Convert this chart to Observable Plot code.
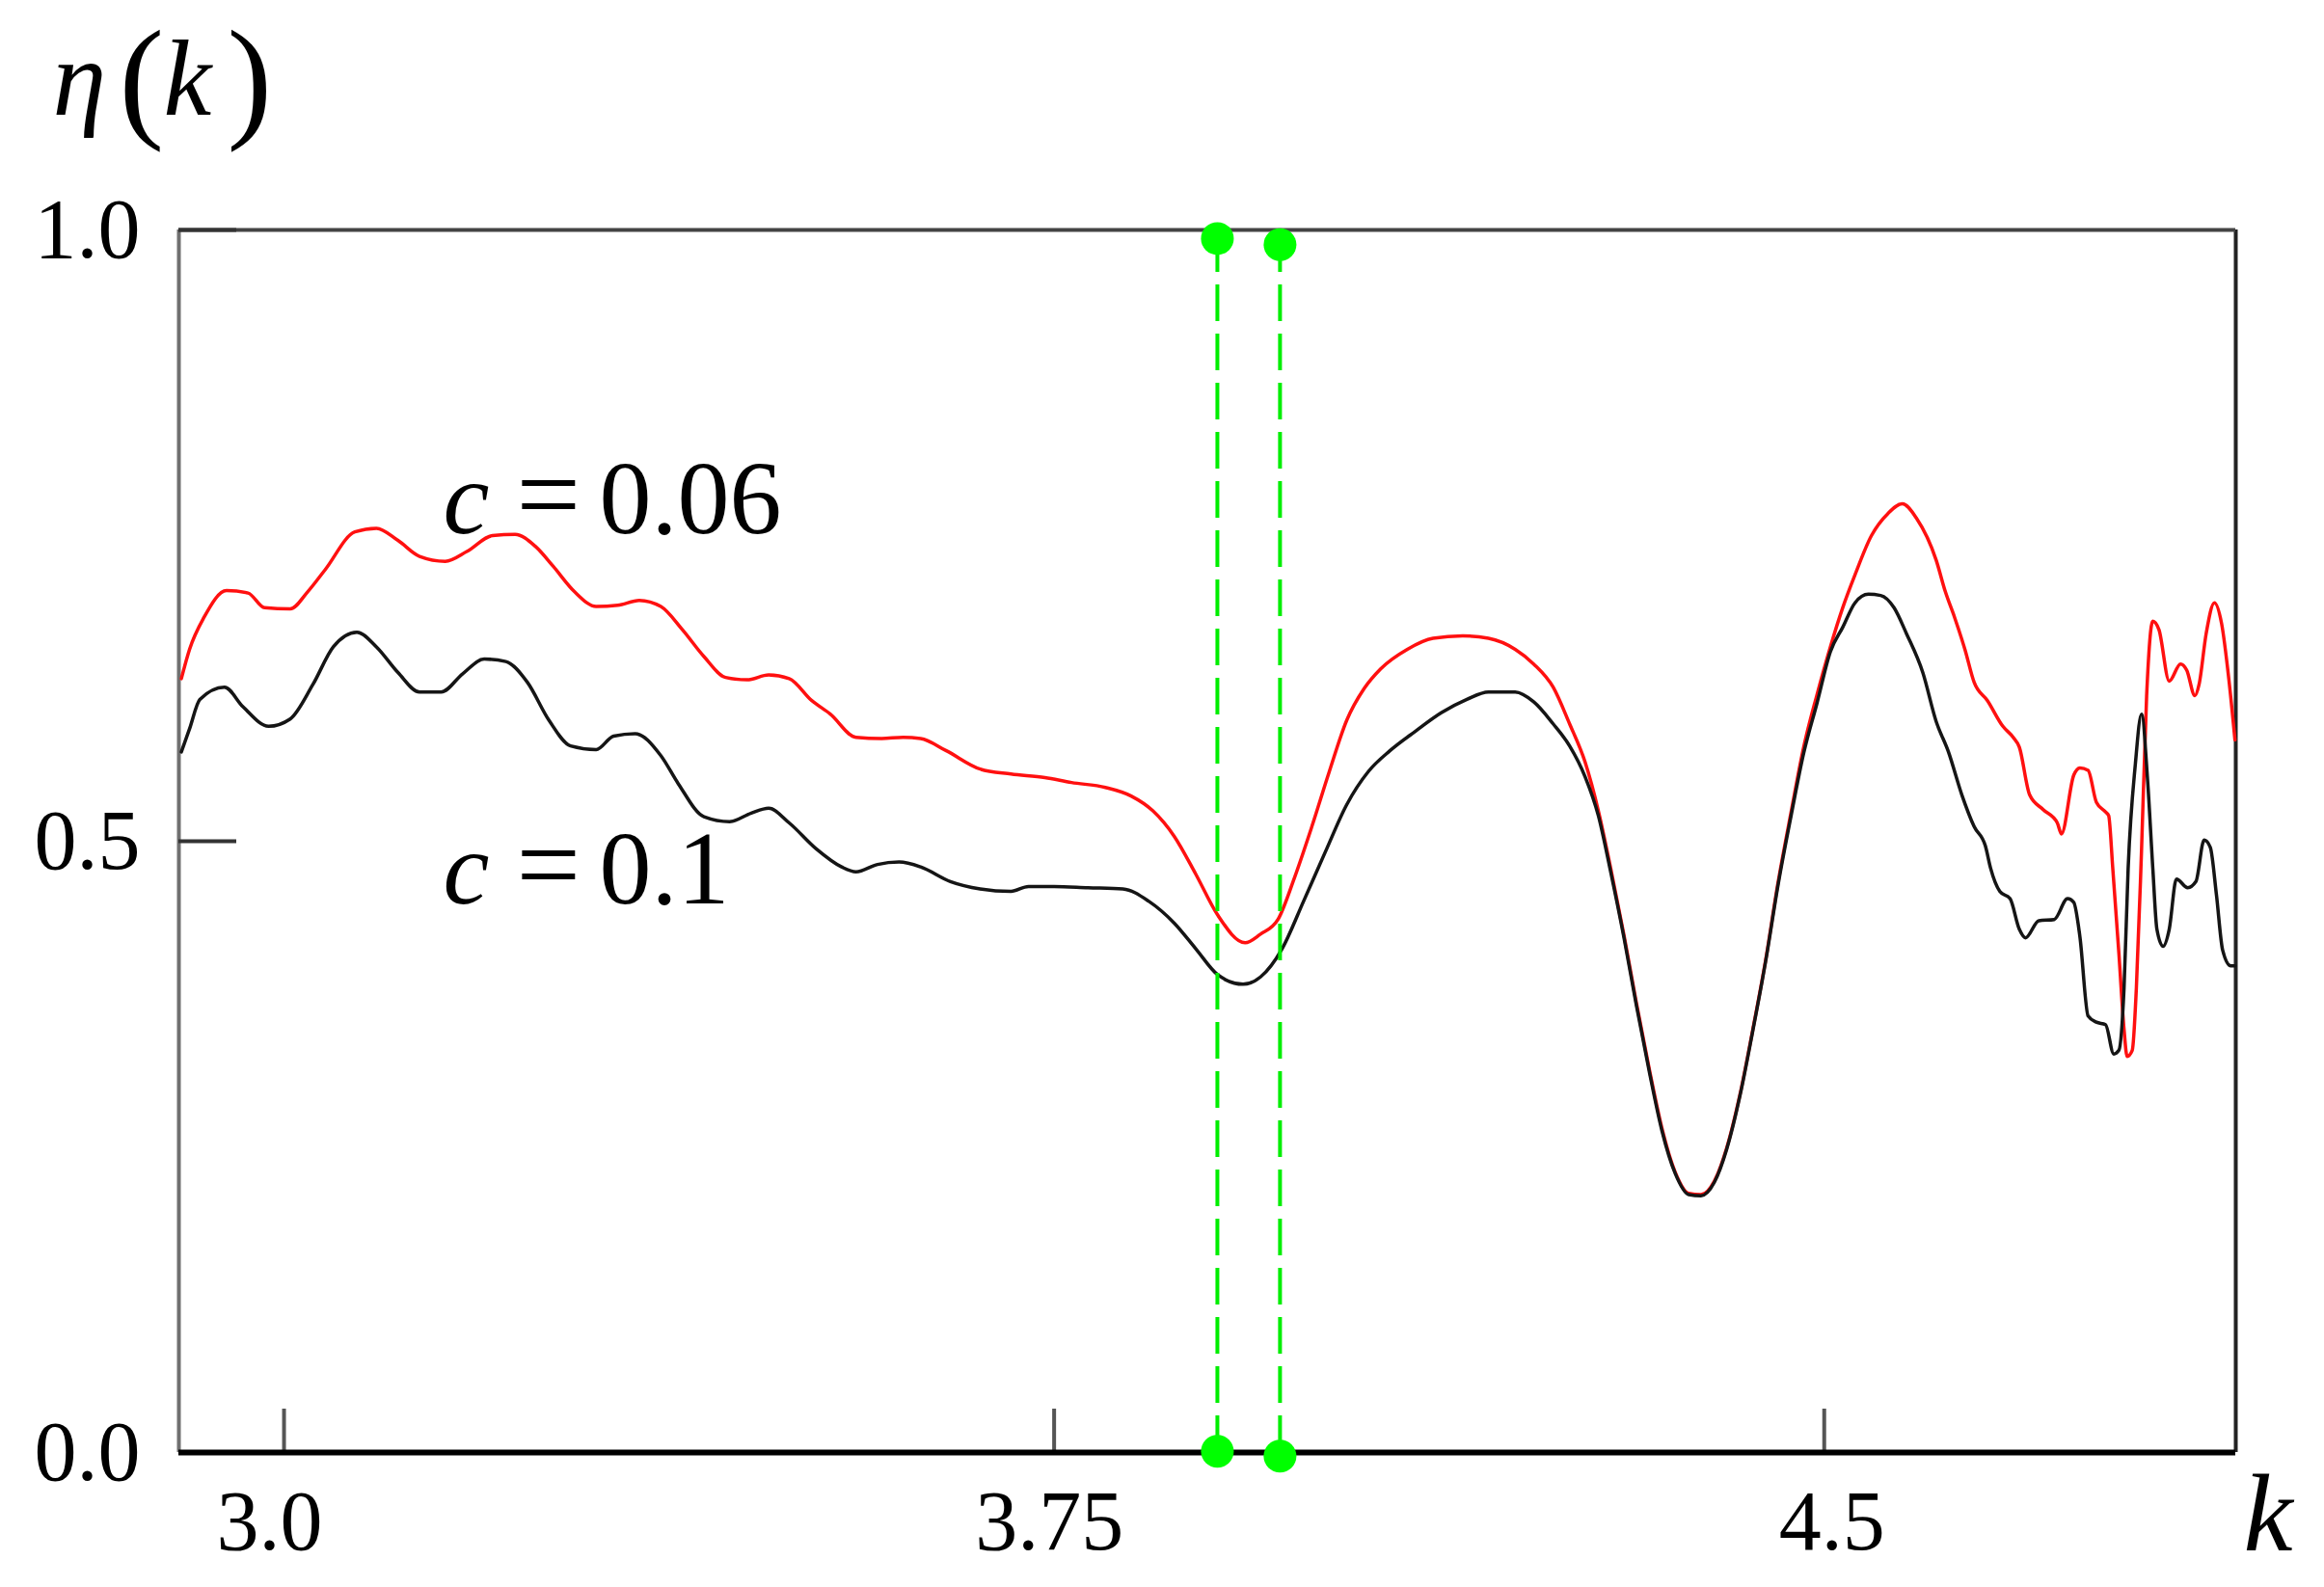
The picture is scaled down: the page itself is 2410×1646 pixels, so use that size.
<!DOCTYPE html>
<html>
<head>
<meta charset="utf-8">
<script src="https://cdn.jsdelivr.net/npm/d3@7"></script>
<script src="https://cdn.jsdelivr.net/npm/@observablehq/plot@0.6"></script>
<style>
  html, body { margin: 0; padding: 0; background: #fff; }
  #chart { width: 2410px; height: 1646px; }
</style>
</head>
<body>
<div id="chart"></div>
<script>
// ---- data ----
const redK = [2.900,2.908,2.922,2.944,2.965,2.981,3.006,3.023,3.040,3.069,3.090,3.111,3.132,3.157,3.178,3.203,3.225,3.245,3.262,3.283,3.304,3.325,3.346,3.367,3.388,3.409,3.430,3.451,3.472,3.492,3.514,3.532,3.557,3.582,3.603,3.620,3.645,3.678,3.708,3.741,3.767,3.800,3.825,3.846,3.867,3.888,3.909,3.936,3.951,3.968,3.984,4.001,4.018,4.035,4.052,4.068,4.094,4.119,4.148,4.173,4.199,4.217,4.236,4.252,4.267,4.280,4.292,4.305,4.317,4.330,4.342,4.355,4.368,4.380,4.393,4.405,4.418,4.430,4.443,4.455,4.468,4.480,4.493,4.506,4.518,4.530,4.546,4.562,4.576,4.590,4.609,4.618,4.627,4.637,4.646,4.659,4.674,4.684,4.690,4.700,4.713,4.727,4.731,4.743,4.749,4.757,4.765,4.774,4.777,4.781,4.787,4.792,4.795,4.800,4.804,4.809,4.814,4.820,4.826,4.836,4.847,4.853,4.861,4.865,4.872,4.880,4.887,4.894,4.900];
const redEta = [0.633,0.657,0.683,0.705,0.703,0.691,0.690,0.704,0.722,0.753,0.756,0.746,0.733,0.729,0.737,0.750,0.751,0.741,0.725,0.704,0.692,0.693,0.697,0.692,0.673,0.651,0.634,0.632,0.636,0.633,0.615,0.604,0.585,0.584,0.585,0.584,0.574,0.559,0.555,0.552,0.548,0.544,0.537,0.525,0.504,0.473,0.440,0.417,0.424,0.436,0.470,0.512,0.557,0.599,0.625,0.641,0.657,0.666,0.668,0.666,0.657,0.645,0.626,0.596,0.565,0.525,0.478,0.423,0.368,0.312,0.265,0.229,0.212,0.211,0.222,0.249,0.293,0.344,0.403,0.466,0.525,0.577,0.620,0.659,0.691,0.718,0.750,0.768,0.776,0.764,0.730,0.704,0.683,0.657,0.630,0.615,0.594,0.585,0.577,0.538,0.526,0.515,0.506,0.554,0.560,0.558,0.532,0.524,0.521,0.478,0.408,0.346,0.324,0.329,0.380,0.492,0.619,0.680,0.673,0.631,0.645,0.640,0.619,0.628,0.670,0.695,0.678,0.633,0.583];

const blackK = [2.900,2.908,2.918,2.942,2.960,2.985,3.006,3.028,3.048,3.071,3.090,3.111,3.132,3.153,3.174,3.195,3.216,3.237,3.258,3.279,3.304,3.321,3.342,3.367,3.384,3.409,3.434,3.455,3.472,3.492,3.518,3.543,3.557,3.578,3.599,3.620,3.649,3.678,3.708,3.725,3.750,3.783,3.817,3.842,3.867,3.888,3.909,3.934,3.951,3.972,3.993,4.014,4.035,4.056,4.077,4.102,4.127,4.152,4.173,4.199,4.217,4.236,4.252,4.267,4.280,4.292,4.305,4.317,4.330,4.342,4.355,4.368,4.380,4.393,4.405,4.418,4.430,4.443,4.455,4.468,4.480,4.493,4.506,4.518,4.530,4.543,4.555,4.568,4.580,4.596,4.609,4.621,4.634,4.646,4.657,4.662,4.671,4.681,4.690,4.696,4.709,4.724,4.737,4.743,4.749,4.757,4.765,4.774,4.782,4.787,4.792,4.796,4.803,4.809,4.815,4.820,4.824,4.830,4.836,4.843,4.854,4.862,4.870,4.876,4.882,4.888,4.896,4.900];
const blackEta = [0.573,0.592,0.616,0.626,0.610,0.594,0.600,0.628,0.659,0.671,0.659,0.638,0.622,0.622,0.637,0.649,0.647,0.630,0.599,0.578,0.575,0.586,0.588,0.570,0.547,0.520,0.516,0.523,0.527,0.515,0.494,0.479,0.475,0.481,0.483,0.479,0.467,0.461,0.459,0.463,0.463,0.462,0.461,0.451,0.433,0.412,0.391,0.383,0.389,0.412,0.451,0.491,0.530,0.557,0.574,0.590,0.605,0.616,0.622,0.622,0.614,0.596,0.578,0.553,0.521,0.475,0.421,0.366,0.310,0.263,0.228,0.211,0.210,0.221,0.248,0.292,0.343,0.402,0.464,0.522,0.572,0.613,0.655,0.675,0.695,0.702,0.701,0.691,0.670,0.638,0.598,0.573,0.538,0.512,0.496,0.478,0.459,0.453,0.428,0.421,0.435,0.436,0.453,0.450,0.422,0.357,0.352,0.350,0.326,0.329,0.380,0.478,0.563,0.604,0.549,0.478,0.428,0.414,0.428,0.469,0.462,0.467,0.501,0.495,0.456,0.411,0.398,0.398];

const greenK = [3.909, 3.970];
const greenTop = [0.993, 0.988];
const greenBottom = [0.001, -0.003];

const xTicks = [3.0, 3.75, 4.5];
const xTickLabels = ["3.0", "3.75", "4.5"];
const yTicks = [0, 0.5, 1];
const yTickLabels = ["0.0", "0.5", "1.0"];

const seriesNames = ["0.06", "0.1"];
const labelK = [3.155, 3.155];
const labelEta = [0.752, 0.449];

const xDomain = [2.8976, 4.9008];
const yDomain = [0, 1];

// label nudges (style only)
const xTickDx = [-15, -5, 8];

// ---- build tables ----
const red = redK.map((k, i) => ({k, eta: redEta[i]}));
const black = blackK.map((k, i) => ({k, eta: blackEta[i]}));
const dots = greenK.flatMap((k, i) => [{k, eta: greenTop[i]}, {k, eta: greenBottom[i]}]);
const labels = seriesNames.map((n, i) => ({n, k: labelK[i], eta: labelEta[i]}));

const serif = "'Liberation Serif', 'DejaVu Serif', serif";

const chart = Plot.plot({
  width: 2410,
  height: 1646,
  marginLeft: 185,
  marginRight: 92,
  marginTop: 238,
  marginBottom: 140,
  style: {fontFamily: serif, background: "#fff", color: "#000", overflow: "visible"},
  x: {domain: xDomain, axis: null},
  y: {domain: yDomain, axis: null},
  marks: [
    // frame
    Plot.ruleX([xDomain[0]], {stroke: "#707070", strokeWidth: 4}),
    Plot.ruleX([xDomain[1]], {stroke: "#222", strokeWidth: 4}),
    Plot.ruleY([1], {stroke: "#444", strokeWidth: 4}),
    // inward ticks
    Plot.ruleX(xTicks, {x: d => d, y1: 0, y2: 0, insetTop: -45, stroke: "#555", strokeWidth: 4}),
    Plot.ruleY(yTicks, {y: d => d, x1: xDomain[0], x2: xDomain[0], insetRight: -60, stroke: "#333", strokeWidth: 4}),
    // curves
    Plot.line(red, {x: "k", y: "eta", stroke: "#ff1010", strokeWidth: 3.5, curve: "monotone-x"}),
    Plot.line(black, {x: "k", y: "eta", stroke: "#151515", strokeWidth: 3.5, curve: "monotone-x"}),
    // green markers
    Plot.ruleX(greenK, {x: d => d, y1: 0, y2: 1, stroke: "#00ee00", strokeWidth: 4, strokeDasharray: "38,13"}),
    Plot.ruleY([0], {stroke: "#000", strokeWidth: 6}),
    Plot.dot(dots, {x: "k", y: "eta", r: 17, fill: "#00ff00", stroke: "none"}),
    // axis labels
    ...xTicks.map((t, i) => Plot.axisX([t], {tickSize: 0, tickPadding: 38, fontSize: 88, label: null,
      dx: xTickDx[i], tickFormat: () => xTickLabels[i]})),
    Plot.axisY(yTicks, {tickSize: 0, tickPadding: 40, fontSize: 88, label: null,
      tickFormat: d => yTickLabels[yTicks.indexOf(d)]}),
    // series labels
    Plot.text(labels, {x: "k", y: "eta", text: () => "c", fontStyle: "italic", fontSize: 108,
      textAnchor: "start", lineAnchor: "bottom", fill: "#000"}),
    Plot.text(labels, {x: "k", y: "eta", text: () => "=", dx: 76, fontSize: 118,
      textAnchor: "start", lineAnchor: "bottom", fill: "#000"}),
    Plot.text(labels, {x: "k", y: "eta", text: d => d.n, dx: 162, fontSize: 108,
      textAnchor: "start", lineAnchor: "bottom", fill: "#000"}),
    // y-axis title η(k)
    Plot.text(["η"], {frameAnchor: "top-left", text: d => d, dx: -131, dy: -120, fontSize: 112,
      fontStyle: "italic", textAnchor: "start", lineAnchor: "bottom", fill: "#000"}),
    Plot.text(["("], {frameAnchor: "top-left", text: d => d, dx: -62, dy: -111, fontSize: 140,
      textAnchor: "start", lineAnchor: "bottom", fill: "#000"}),
    Plot.text(["k"], {frameAnchor: "top-left", text: d => d, dx: -16, dy: -120, fontSize: 112,
      fontStyle: "italic", textAnchor: "start", lineAnchor: "bottom", fill: "#000"}),
    Plot.text([")"], {frameAnchor: "top-left", text: d => d, dx: 50, dy: -111, fontSize: 140,
      textAnchor: "start", lineAnchor: "bottom", fill: "#000"}),
    // x-axis title k
    Plot.text(["k"], {frameAnchor: "bottom-right", text: d => d, dx: 8, dy: 101, fontSize: 115,
      fontStyle: "italic", textAnchor: "start", lineAnchor: "bottom", fill: "#000"})
  ]
});

document.getElementById("chart").appendChild(chart);
</script>
</body>
</html>
